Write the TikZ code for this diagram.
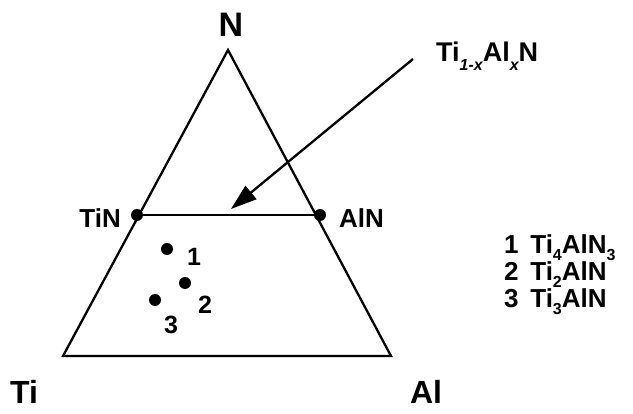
\documentclass[tikz,border=0pt]{standalone}
\usepackage{fontspec}
\setmainfont{Liberation Sans}
\usetikzlibrary{arrows.meta}
\newcommand{\fs}[1]{\fontsize{#1}{#1}\selectfont}
\newcommand{\subsc}[1]{\raisebox{-0.25em}{\fs{16}#1}}
\newcommand{\subit}[1]{\raisebox{-0.33em}{\fs{16}\itshape #1}}
\begin{document}
\begin{tikzpicture}[x=1pt,y=-1pt,
  lbl/.style={font=\bfseries\fs{#1}, inner sep=0pt},
  lbl/.default=27,
  dotnode/.style={circle, fill=black, inner sep=0pt, minimum size=12pt},
  edge/.style={line width=2.3pt, line join=miter}]
\useasboundingbox (0,0) rectangle (633,414);
% vertices
\coordinate (top) at (228,50);
\coordinate (bl) at (63,356);
\coordinate (br) at (391,356);
\draw[edge] (top) -- (bl) -- (br) -- cycle;
\node[dotnode] (tin) at (137,215) {};
\node[dotnode] (aln) at (320,215) {};
\draw[edge] (tin) -- (aln);
\coordinate (mid) at (231,209);
% labels
\node[lbl=34] (N) at (231,25) {N};
\node[lbl=32] (Ti) at (24,392) {Ti};
\node[lbl=32] (Al) at (426,392) {Al};
\node[lbl=26, anchor=base east] (TiNl) at (121,228) {TiN};
\node[lbl=26, anchor=base west] (AlNl) at (339,228) {AlN};
\node[lbl=27, anchor=base west] (tialn) at (436,62) {Ti\subit{1-x}Al\subit{x}N};
\coordinate (astart) at (413,59);
\draw[line width=2.3pt, -{Triangle[length=26pt,width=17pt]}] (astart) -- (mid);
% points
\node[dotnode] (p1) at (167,249) {};
\node[dotnode] (p2) at (185,283) {};
\node[dotnode] (p3) at (155,300) {};
\node[lbl=25] (l1) at (194,257) {1};
\node[lbl=25] (l2) at (205,305) {2};
\node[lbl=25] (l3) at (171,325) {3};
% legend
\node[lbl=26, anchor=base west] (g1) at (504,254) {1\hspace{0.45em}Ti\subsc{4}AlN\subsc{3}};
\node[lbl=26, anchor=base west] (g2) at (504,281) {2\hspace{0.45em}Ti\subsc{2}AlN};
\node[lbl=26, anchor=base west] (g3) at (504,308) {3\hspace{0.45em}Ti\subsc{3}AlN};
\end{tikzpicture}
\end{document}
